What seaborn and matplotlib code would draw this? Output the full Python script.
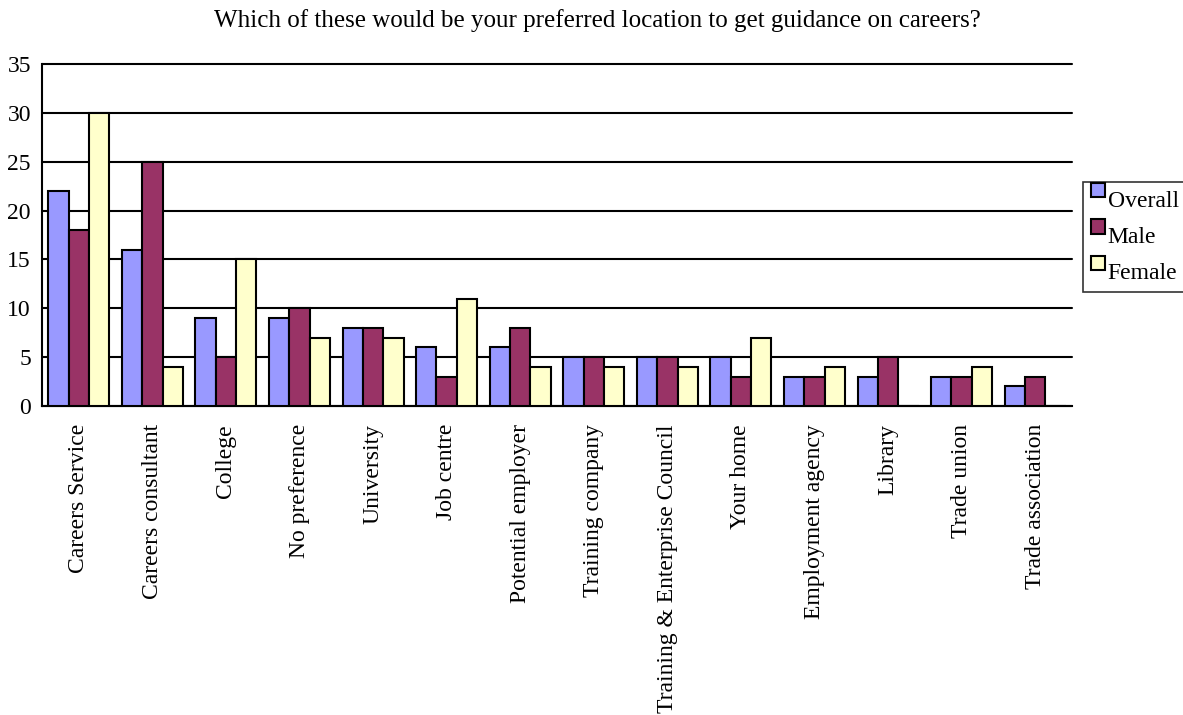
import matplotlib
matplotlib.use("Agg")
import matplotlib.pyplot as plt
import seaborn as sns
import pandas as pd
from matplotlib.legend_handler import HandlerPatch
from matplotlib.patches import Rectangle

categories = ["Careers Service", "Careers consultant", "College", "No preference",
              "University", "Job centre", "Potential employer", "Training company",
              "Training & Enterprise Council", "Your home", "Employment agency",
              "Library", "Trade union", "Trade association"]
overall = [22, 16, 9, 9, 8, 6, 6, 5, 5, 5, 3, 3, 3, 2]
male = [18, 25, 5, 10, 8, 3, 8, 5, 5, 3, 3, 5, 3, 3]
female = [30, 4, 15, 7, 7, 11, 4, 4, 4, 7, 4, 0, 4, 0]
series = ["Overall", "Male", "Female"]
colors = ["#9999FF", "#993366", "#FFFFCC"]
yticks = [0, 5, 10, 15, 20, 25, 30, 35]

rows = []
for name, vals in zip(series, [overall, male, female]):
    for c, v in zip(categories, vals):
        rows.append({"location": c, "count": v, "group": name})
df = pd.DataFrame(rows)

sns.set_style("white")
plt.rcParams["font.family"] = ["Liberation Serif", "DejaVu Serif"]
plt.rcParams["text.color"] = "black"
plt.rcParams["xtick.color"] = "black"
plt.rcParams["ytick.color"] = "black"

fig = plt.figure(figsize=(11.83, 7.15), dpi=100)
ax = fig.add_axes([42 / 1183, 1 - 406 / 715, (1072 - 42) / 1183, (406 - 64) / 715])

sns.barplot(data=df, x="location", y="count", hue="group", order=categories,
            hue_order=series, palette=colors, saturation=1, edgecolor="black",
            linewidth=1.5, width=0.83, ax=ax, legend=False, zorder=3)

ax.set_xlim(-0.5, len(categories) - 0.5)
ax.set_ylim(0, 35)
ax.set_yticks(yticks)
ax.set_yticklabels([str(t) for t in yticks], fontsize=17, color="black")
ax.yaxis.grid(True, color="black", linewidth=1.5, zorder=0)
for gl in ax.get_ygridlines():
    gl.set_clip_on(False)
ax.set_axisbelow(True)
for s in ["top", "right"]:
    ax.spines[s].set_visible(False)
for s in ["left", "bottom"]:
    ax.spines[s].set_linewidth(1.5)
    ax.spines[s].set_color("black")
ax.tick_params(axis="y", direction="out", length=6, width=1.5, pad=2, colors="black")

# category labels centred under each group, ticks between groups
ax.set_xticks(range(len(categories)))
ax.set_xticklabels(categories, rotation=90, fontsize=17, color="black")
ax.tick_params(axis="x", which="major", length=0, pad=13)
ax.set_xticks([i - 0.5 for i in range(len(categories) + 1)], minor=True)
ax.tick_params(axis="x", which="minor", direction="out", length=7, width=1.5, colors="black")
ax.set_xlabel("")
ax.set_ylabel("")

fig.text(597 / 1183, 1 - 21 / 715, "Which of these would be your preferred location to get guidance on careers?",
         ha="center", va="center", fontsize=18, color="black")


def raised_square(legend, orig_handle, xdescent, ydescent, width, height, fontsize):
    # small square sitting above the text baseline
    side = 0.6 * fontsize
    return Rectangle((-xdescent, -ydescent + height - side * 0.5), side, side)


handles = [Rectangle((0, 0), 1, 1, facecolor=c, edgecolor="black", linewidth=1.5) for c in colors]
leg = fig.legend(handles, series, loc="upper left", bbox_to_anchor=(1083 / 1183, 1 - 182 / 715),
                 frameon=True, fancybox=False, fontsize=17, handlelength=0.65, handleheight=0.7,
                 handletextpad=0.05, borderpad=0.35, labelspacing=0.62, borderaxespad=0,
                 labelcolor="black",
                 handler_map={Rectangle: HandlerPatch(patch_func=raised_square)})
leg.get_frame().set_edgecolor("black")
leg.get_frame().set_linewidth(1.2)

fig.savefig("out.png", dpi=100)
